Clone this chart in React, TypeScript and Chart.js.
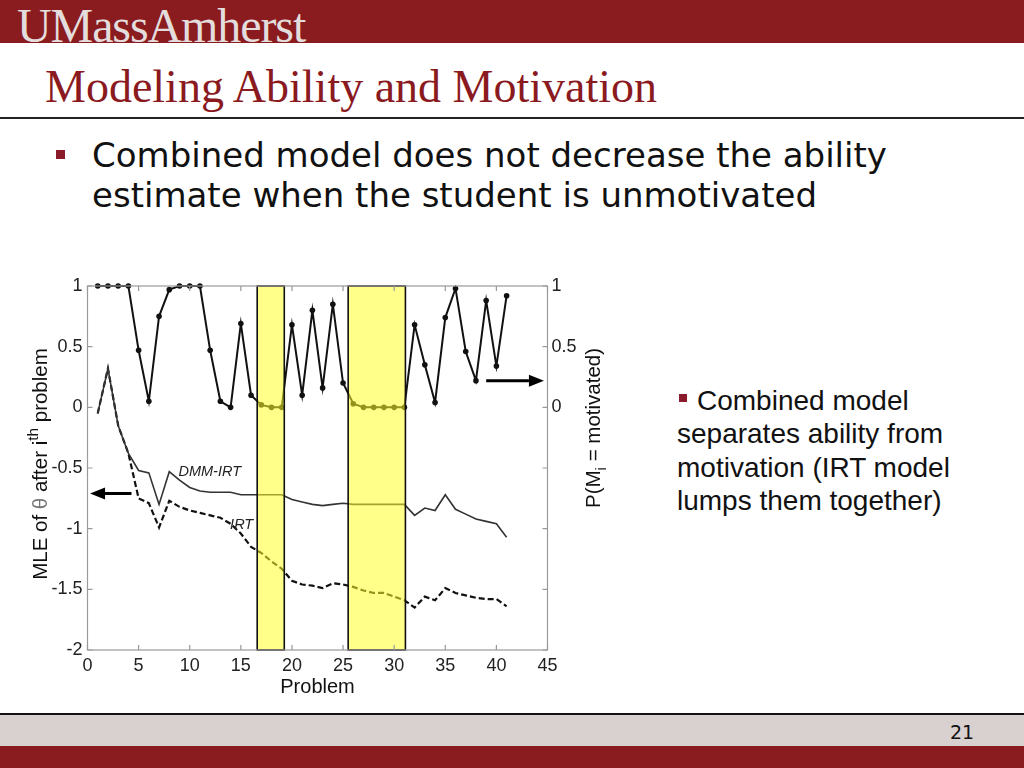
import React, { useEffect, useRef } from "react";
import { Chart, registerables } from "chart.js";

Chart.register(...registerables);

// ---------------- data ----------------
const problems = [1, 2, 3, 4, 5, 6, 7, 8, 9, 10, 11, 12, 13, 14, 15, 16, 17, 18, 19, 20, 21, 22, 23, 24, 25, 26, 27, 28, 29, 30, 31, 32, 33, 34, 35, 36, 37, 38, 39, 40, 41];

const pMotivated = [1, 1, 1, 1, 0.47, 0.05, 0.75, 0.97, 1, 1, 1, 0.47, 0.05, 0.0, 0.69, 0.1, 0.02, 0.0, 0.0, 0.68, 0.1, 0.8, 0.16, 0.85, 0.2, 0.03, 0, 0, 0, 0, 0, 0.68, 0.35, 0.04, 0.74, 0.98, 0.46, 0.22, 0.88, 0.34, 0.92];

const dmmIrt = [-0.05, 0.32, -0.15, -0.38, -0.52, -0.54, -0.8, -0.53, -0.6, -0.66, -0.69, -0.7, -0.7, -0.7, -0.72, -0.72, -0.72, -0.72, -0.72, -0.76, -0.78, -0.8, -0.81, -0.8, -0.79, -0.8, -0.8, -0.8, -0.8, -0.8, -0.8, -0.89, -0.83, -0.85, -0.72, -0.84, -0.88, -0.92, -0.94, -0.96, -1.07];

const irt = [-0.05, 0.32, -0.15, -0.38, -0.75, -0.79, -0.99, -0.77, -0.82, -0.85, -0.87, -0.89, -0.91, -0.96, -1.04, -1.15, -1.2, -1.27, -1.33, -1.43, -1.46, -1.47, -1.49, -1.45, -1.46, -1.48, -1.51, -1.53, -1.53, -1.56, -1.59, -1.65, -1.56, -1.59, -1.49, -1.53, -1.55, -1.57, -1.58, -1.58, -1.64];

// unmotivated stretches (problem ranges highlighted in yellow)
const highlightStart = [16.6, 25.5];
const highlightEnd = [19.25, 31.1];

// axis ranges / ticks
const xMin = 0;
const xMax = 45;
const xStep = 5;
const yMin = -2;
const yMax = 1;
const yStep = 0.5;
const rightTickValues = [0, 0.5, 1];

// annotations (in data units)
const seriesLabels = ["DMM-IRT", "IRT"];
const seriesLabelX = [8.9, 13.95];
const seriesLabelY = [-0.57, -1.0];
const arrowFromX = [4.3, 39.0];
const arrowToX = [0.25, 44.65];
const arrowY = [-0.71, 0.22];

const FONT = "'Liberation Sans', Arial, sans-serif";

const toPts = (ys: number[]) => problems.map((x, i) => ({ x, y: ys[i] }));

type Part = { t: string; scale?: number; shift?: number; color?: string };

function drawRotated(ctx: CanvasRenderingContext2D, parts: Part[], baseX: number, centerY: number, size: number) {
  ctx.save();
  ctx.translate(baseX, centerY);
  ctx.rotate(-Math.PI / 2);
  ctx.textBaseline = "alphabetic";
  ctx.textAlign = "left";
  let total = 0;
  const widths = parts.map((p) => {
    ctx.font = `${size * (p.scale || 1)}px ${FONT}`;
    const w = ctx.measureText(p.t).width;
    total += w;
    return w;
  });
  let x = -total / 2;
  parts.forEach((p, i) => {
    ctx.font = `${size * (p.scale || 1)}px ${FONT}`;
    ctx.fillStyle = p.color || "#111";
    ctx.fillText(p.t, x, (p.shift || 0) * size);
    x += widths[i];
  });
  ctx.restore();
}

const overlayPlugin = {
  id: "overlay",
  afterDatasetsDraw(chart: any) {
    const ctx: CanvasRenderingContext2D = chart.ctx;
    const xs = chart.scales.x;
    const ys = chart.scales.y;
    const ca = chart.chartArea;

    // yellow highlight boxes
    ctx.save();
    highlightStart.forEach((s, i) => {
      const x0 = xs.getPixelForValue(s);
      const x1 = xs.getPixelForValue(highlightEnd[i]);
      ctx.fillStyle = "rgba(255,255,40,0.55)";
      ctx.fillRect(x0, ca.top, x1 - x0, ca.bottom - ca.top);
      ctx.strokeStyle = "#111";
      ctx.lineWidth = 1.6;
      ctx.strokeRect(x0, ca.top, x1 - x0, ca.bottom - ca.top);
    });
    ctx.restore();

    // axes box
    ctx.save();
    ctx.strokeStyle = "#9a9a9a";
    ctx.lineWidth = 1.2;
    ctx.strokeRect(ca.left, ca.top, ca.right - ca.left, ca.bottom - ca.top);
    // inward ticks
    const tl = 5;
    for (let v = xMin; v <= xMax; v += xStep) {
      const px = xs.getPixelForValue(v);
      ctx.beginPath();
      ctx.moveTo(px, ca.bottom);
      ctx.lineTo(px, ca.bottom - tl);
      ctx.moveTo(px, ca.top);
      ctx.lineTo(px, ca.top + tl);
      ctx.stroke();
    }
    for (let v = yMin; v <= yMax + 1e-9; v += yStep) {
      const py = ys.getPixelForValue(v);
      ctx.beginPath();
      ctx.moveTo(ca.left, py);
      ctx.lineTo(ca.left + tl, py);
      ctx.moveTo(ca.right, py);
      ctx.lineTo(ca.right - tl, py);
      ctx.stroke();
    }
    ctx.restore();

    // arrows
    ctx.save();
    ctx.strokeStyle = "#000";
    ctx.fillStyle = "#000";
    arrowFromX.forEach((fx, i) => {
      const x0 = xs.getPixelForValue(fx);
      const x1 = xs.getPixelForValue(arrowToX[i]);
      const y = ys.getPixelForValue(arrowY[i]);
      const dir = Math.sign(x1 - x0);
      const head = 15;
      ctx.lineWidth = 3;
      ctx.beginPath();
      ctx.moveTo(x0, y);
      ctx.lineTo(x1 - dir * head, y);
      ctx.stroke();
      ctx.beginPath();
      ctx.moveTo(x1, y);
      ctx.lineTo(x1 - dir * head, y - 6);
      ctx.lineTo(x1 - dir * head, y + 6);
      ctx.closePath();
      ctx.fill();
    });
    ctx.restore();

    // series labels
    ctx.save();
    ctx.fillStyle = "#222";
    ctx.font = `italic 14.5px ${FONT}`;
    ctx.textAlign = "left";
    ctx.textBaseline = "alphabetic";
    seriesLabels.forEach((t, i) => {
      ctx.fillText(t, xs.getPixelForValue(seriesLabelX[i]), ys.getPixelForValue(seriesLabelY[i]));
    });
    ctx.restore();

    // axis titles
    ctx.save();
    ctx.fillStyle = "#111";
    ctx.font = `20px ${FONT}`;
    ctx.textAlign = "center";
    ctx.textBaseline = "alphabetic";
    ctx.fillText("Problem", (ca.left + ca.right) / 2, ca.bottom + 43);
    ctx.restore();

    drawRotated(
      ctx,
      [
        { t: "MLE of " },
        { t: "θ", color: "#777" },
        { t: " after i" },
        { t: "th", scale: 0.75, shift: -0.42 },
        { t: " problem" },
      ],
      47,
      (ca.top + ca.bottom) / 2 - 4,
      20.5
    );
    drawRotated(
      ctx,
      [
        { t: "P(M" },
        { t: "i", scale: 0.75, shift: 0.28 },
        { t: " = motivated)" },
      ],
      600,
      ys.getPixelForValue(-0.17),
      20.5
    );
  },
};

export default function App() {
  const ref = useRef<HTMLCanvasElement>(null);

  useEffect(() => {
    if (!ref.current) return;
    Chart.defaults.font.family = FONT;
    const chart = new Chart(ref.current, {
      type: "line",
      data: {
        datasets: [
          {
            label: "P(motivated)",
            data: toPts(pMotivated),
            yAxisID: "y2",
            borderColor: "#111",
            backgroundColor: "#111",
            borderWidth: 2,
            pointRadius: 2.8,
            pointBorderWidth: 0,
            pointBackgroundColor: "#111",
            tension: 0,
            clip: false,
          },
          {
            label: "DMM-IRT",
            data: toPts(dmmIrt),
            yAxisID: "y",
            borderColor: "#333",
            borderWidth: 1.6,
            pointRadius: 0,
            tension: 0,
          },
          {
            label: "IRT",
            data: toPts(irt),
            yAxisID: "y",
            borderColor: "#111",
            borderWidth: 2.2,
            borderDash: [6, 3],
            pointRadius: 0,
            tension: 0,
          },
        ],
      },
      options: {
        animation: false,
        responsive: false,
        maintainAspectRatio: false,
        devicePixelRatio: 1,
        layout: { padding: { top: 16, left: 0, right: 0, bottom: 0 } },
        plugins: {
          legend: { display: false },
          tooltip: { enabled: false },
          title: { display: false },
        },
        scales: {
          x: {
            type: "linear",
            min: xMin,
            max: xMax,
            grid: { display: false, drawTicks: false, tickLength: 0 },
            border: { display: false },
            ticks: {
              stepSize: xStep,
              autoSkip: false,
              maxRotation: 0,
              padding: 5,
              color: "#222",
              font: { size: 18, family: FONT },
              callback: (v: any) => String(v),
            },
            afterFit: (s: any) => {
              s.height = 60;
            },
          },
          y: {
            type: "linear",
            position: "left",
            min: yMin,
            max: yMax,
            grid: { display: false, drawTicks: false, tickLength: 0 },
            border: { display: false },
            ticks: {
              stepSize: yStep,
              autoSkip: false,
              padding: 5,
              color: "#222",
              font: { size: 18, family: FONT },
              callback: (v: any) => String(v),
            },
            afterFit: (s: any) => {
              s.width = 87.5;
            },
          },
          y2: {
            type: "linear",
            position: "right",
            min: yMin,
            max: yMax,
            grid: { display: false, drawTicks: false, tickLength: 0 },
            border: { display: false },
            ticks: {
              stepSize: yStep,
              autoSkip: false,
              padding: 4,
              color: "#222",
              font: { size: 18, family: FONT },
              callback: (v: any) => (rightTickValues.includes(Number(v)) ? String(v) : ""),
            },
            afterFit: (s: any) => {
              s.width = 72.5;
            },
          },
        },
      },
      plugins: [overlayPlugin],
    } as any);
    return () => chart.destroy();
  }, []);

  const red = "#8A1C1F";

  return (
    <div
      style={{
        position: "absolute",
        left: 0,
        top: 0,
        width: 1024,
        height: 768,
        overflow: "hidden",
        background: "#fff",
      }}
    >
      {/* header banner */}
      <div style={{ position: "absolute", left: 0, top: 0, width: 1024, height: 43, background: red, overflow: "hidden" }}>
        <div
          style={{
            position: "absolute",
            left: 17,
            top: 2,
            fontFamily: "'Liberation Serif', 'Times New Roman', serif",
            fontSize: 48,
            lineHeight: "48px",
            letterSpacing: -1.1,
            color: "#E4DDDD",
            whiteSpace: "nowrap",
          }}
        >
          UMassAmherst
        </div>
      </div>

      {/* slide title */}
      <div
        style={{
          position: "absolute",
          left: 45,
          top: 63.5,
          fontFamily: "'Liberation Serif', 'Times New Roman', serif",
          fontSize: 46,
          lineHeight: "46px",
          color: "#8B1A1F",
          whiteSpace: "nowrap",
        }}
      >
        Modeling Ability and Motivation
      </div>
      <div style={{ position: "absolute", left: 0, top: 117, width: 1024, height: 2, background: "#222" }} />

      {/* main bullet */}
      <div style={{ position: "absolute", left: 56, top: 150, width: 9, height: 9, background: "#8B1A2A" }} />
      <div
        style={{
          position: "absolute",
          left: 92,
          top: 135.2,
          fontFamily: "'DejaVu Sans', Verdana, sans-serif",
          fontSize: 34,
          lineHeight: "40px",
          color: "#111",
          whiteSpace: "nowrap",
        }}
      >
        Combined model does not decrease the ability
        <br />
        estimate when the student is unmotivated
      </div>

      {/* chart */}
      <canvas
        ref={ref}
        width={620}
        height={440}
        style={{ position: "absolute", left: 0, top: 270, width: 620, height: 440 }}
      />

      {/* side note */}
      <div style={{ position: "absolute", left: 679, top: 394, width: 7.5, height: 7.5, background: "#8B1A2A" }} />
      <div
        style={{
          position: "absolute",
          left: 677,
          top: 383.5,
          fontFamily: "'Liberation Sans', Arial, sans-serif",
          fontSize: 28,
          lineHeight: "33.6px",
          color: "#111",
          whiteSpace: "nowrap",
        }}
      >
        <span style={{ paddingLeft: 20 }}>Combined model</span>
        <br />
        separates ability from
        <br />
        motivation (IRT model
        <br />
        lumps them together)
      </div>

      {/* footer */}
      <div style={{ position: "absolute", left: 0, top: 713, width: 1024, height: 1.5, background: "#111" }} />
      <div style={{ position: "absolute", left: 0, top: 714.5, width: 1024, height: 32, background: "#D9D0D0" }} />
      <div style={{ position: "absolute", left: 0, top: 746, width: 1024, height: 22, background: red }} />
      <div
        style={{
          position: "absolute",
          left: 950,
          top: 722.9,
          fontFamily: "'DejaVu Sans', Verdana, sans-serif",
          fontSize: 19,
          lineHeight: "19px",
          color: "#111",
        }}
      >
        21
      </div>
    </div>
  );
}
